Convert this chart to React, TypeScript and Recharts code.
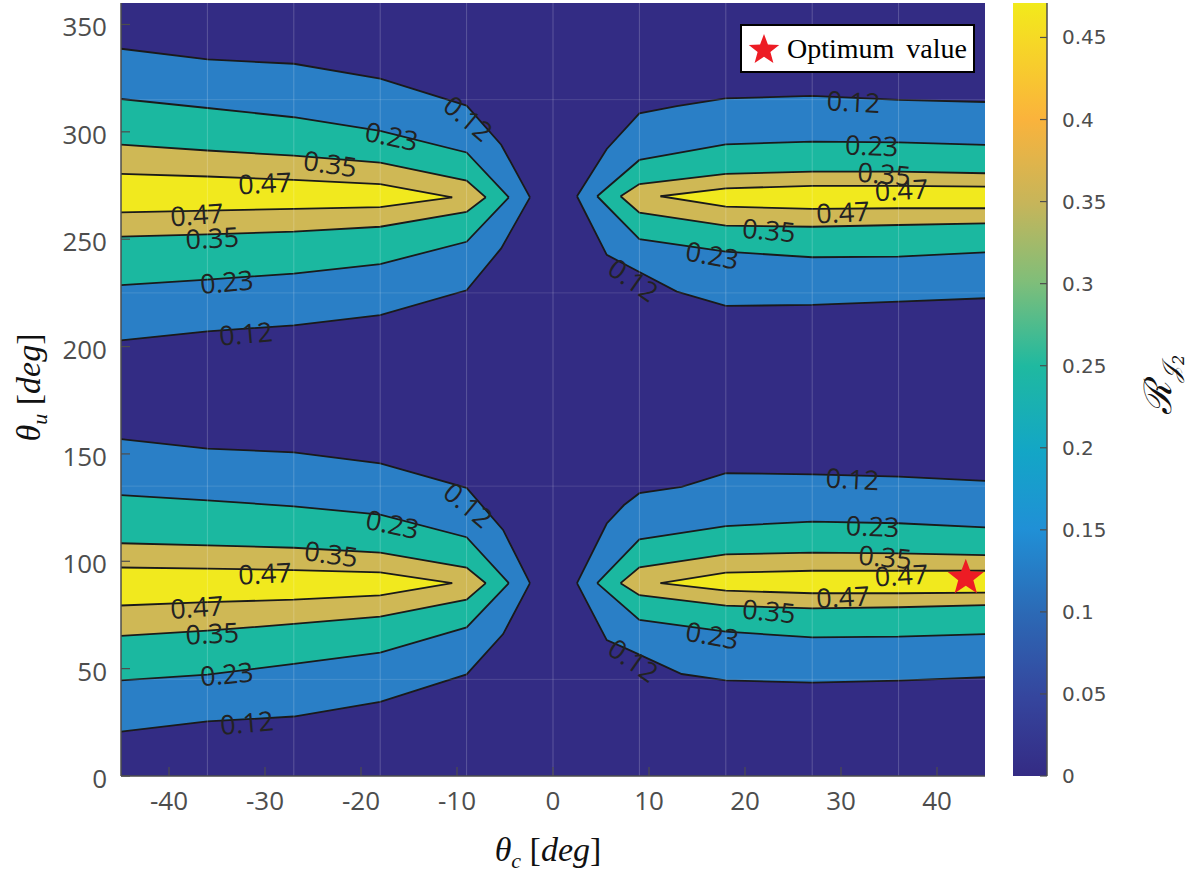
import React from 'react';
import { ComposedChart, Area, Scatter, XAxis, YAxis, CartesianGrid, ReferenceLine, Legend, BarChart, Bar } from 'recharts';

// axis ranges and ticks
const THETA_C_TICKS = [-40, -30, -20, -10, 0, 10, 20, 30, 40];
const THETA_U_TICKS = [0, 50, 100, 150, 200, 250, 300, 350];
const CB_TICKS = [0, 0.05, 0.1, 0.15, 0.2, 0.25, 0.3, 0.35, 0.4, 0.45];
const X_MIN = -45;
const X_MAX = 45;
const Y_MAX = 360;
const CB_MAX = 0.471;

// faint data grid of the surface
const GRID_C = [-36, -27, -18, -9, 0, 9, 18, 27, 36];
const GRID_U = [45, 135, 225, 315];

// contour levels (fill of region above each level)
const LEVEL_COLORS = ['#2a7fc6', '#1bb8a0', '#cfb855', '#f1e91e'];
const BG_COLOR = '#332c84';

// contour bands: [theta_c, lower theta_u, upper theta_u]
const tl12 = [[-45, 202.9, 338.7], [-36, 207.1, 333.7], [-27, 209.9, 331.7], [-18, 214.6, 324.8], [-9, 226.2, 312.2], [-5.4, 245.7, 294], [-2.4, 269.5, 269.5]];
const tl23 = [[-45, 228.6, 315.3], [-36, 231.2, 311.1], [-27, 234, 306.8], [-18, 238.4, 300.5], [-9, 248.8, 290.4], [-4.6, 269.5, 269.5]];
const tl35 = [[-45, 251.2, 294], [-36, 252.2, 291.3], [-27, 253.5, 288.9], [-18, 255.8, 285.7], [-9, 262.7, 277.3], [-7, 269.5, 269.5]];
const tl47 = [[-45, 262.5, 280.4], [-36, 263.3, 279.2], [-27, 264.1, 277.6], [-18, 264.9, 275.6], [-10.5, 269.5, 269.5]];

const bl12 = [[-45, 20.7, 156.9], [-36, 25.4, 152.5], [-27, 27.7, 150.7], [-18, 34.5, 145.6], [-9, 47.3, 134.2], [-5.2, 66.1, 114.6], [-2.4, 89.8, 89.8]];
const bl23 = [[-45, 44.5, 130.8], [-36, 47.2, 128.4], [-27, 52.2, 125.6], [-18, 57.5, 121.7], [-9, 69.2, 111.2], [-4.6, 89.8, 89.8]];
const bl35 = [[-45, 65.3, 108.4], [-36, 67.7, 107.4], [-27, 70.8, 106.3], [-18, 74.2, 104], [-9, 82.1, 97.1], [-7, 89.8, 89.8]];
const bl47 = [[-45, 79.4, 97.1], [-36, 81, 96.6], [-27, 82.1, 95.9], [-18, 84.1, 94.8], [-10.5, 89.8, 89.8]];

const tr12 = [[2.5, 270, 270], [5.6, 242.7, 292], [9, 234.7, 308.6], [12.9, 225.6, 312], [18, 218.9, 315.6], [27, 219.4, 316.7], [36, 220.9, 314.9], [45, 222.5, 313.9]];
const tr23 = [[4.6, 270, 270], [9, 250, 286.9], [18, 244.2, 294.2], [27, 241.6, 295.4], [36, 241.9, 295.1], [45, 243.9, 293.9]];
const tr35 = [[7.04, 270, 270], [9, 262.4, 275.7], [18, 256.3, 280.4], [27, 255.8, 281.5], [36, 256.6, 281.5], [45, 257.4, 280.7]];
const tr47 = [[11.2, 270, 270], [18, 265.2, 273.7], [27, 264.1, 274.8], [36, 264.4, 274.8], [45, 264.4, 274.5]];

const br12 = [[2.5, 89.8, 89.8], [5.6, 63.3, 117.6], [7.4, 59.8, 126.2], [9, 56.5, 131.7], [13.4, 47.5, 134.7], [18, 44.5, 141], [27, 43.5, 140.5], [36, 44.4, 139.4], [45, 46, 137.4]];
const br23 = [[4.6, 89.8, 89.8], [9, 72.7, 110.2], [18, 67.2, 116.4], [27, 64.6, 118.5], [36, 64.9, 117.7], [45, 66.1, 115.8]];
const br35 = [[7.04, 89.8, 89.8], [9, 84.2, 97.2], [18, 79.3, 103.2], [27, 78.1, 104], [36, 78.6, 103.7], [45, 79.6, 102.9]];
const br47 = [[11.2, 89.8, 89.8], [18, 86.3, 94.7], [27, 85.1, 95.6], [36, 85.1, 95.6], [45, 85.4, 95.6]];

const LEVEL_BANDS = [
  [tl12, bl12, tr12, br12],
  [tl23, bl23, tr23, br23],
  [tl35, bl35, tr35, br35],
  [tl47, bl47, tr47, br47],
];

// contour labels: [theta_c, theta_u, text, rotation]
const CONTOUR_LABELS: [number, number, string, number][] = [
  [-8.8, 306.5, '0.12', 40], [-16.8, 298.2, '0.23', 12], [-23.2, 285.4, '0.35', 8], [-30, 276.4, '0.47', -3],
  [-37.1, 261.7, '0.47', -4], [-35.5, 250.8, '0.35', -3], [-34, 230.4, '0.23', -5], [-32, 206.3, '0.12', -5],
  [-8.8, 126.4, '0.12', 40], [-16.7, 117.5, '0.23', 12], [-23.1, 103.7, '0.35', 8], [-30, 94.6, '0.47', -3],
  [-37.1, 78.9, '0.47', -4], [-35.5, 66.7, '0.35', -3], [-34, 47.8, '0.23', -5], [-31.9, 25.1, '0.12', -5],
  [31.3, 314.3, '0.12', 3], [33.2, 293.9, '0.23', 2], [34.5, 280.7, '0.35', 5], [36.3, 273.2, '0.47', -3],
  [30.2, 262.8, '0.47', -3], [22.5, 254.5, '0.35', 5], [16.6, 242.8, '0.23', 10], [8.4, 231.2, '0.12', 35],
  [31.2, 138.6, '0.12', 3], [33.3, 116.6, '0.23', 2], [34.6, 102.3, '0.35', 5], [36.3, 93.8, '0.47', -3],
  [30.2, 83.7, '0.47', -3], [22.5, 77.1, '0.35', 5], [16.6, 65.8, '0.23', 10], [8.4, 54.1, '0.12', 35],
];

const OPT_NAME = 'Optimum value';
const OPTIMUM = [{ x: 43, y: 92.3 }];

// colorbar (parula-like, bottom to top)
const CB_STOPS: [number, string][] = [
  [0, '#342b84'], [0.1, '#35459d'], [0.21, '#2c69b5'], [0.32, '#2090d6'], [0.42, '#13a6c6'],
  [0.53, '#1fb9a0'], [0.64, '#80be79'], [0.74, '#c6b55a'], [0.85, '#fab33c'], [0.95, '#f6d826'], [1, '#f2ea1b'],
];
const CB_DATA = [{ name: 'cb', value: CB_MAX }];

const AXIS_COLOR = '#4d4d4d';
const TICK_FONT = "'Open Sans', sans-serif";

const toRows = (pts: number[][]) => pts.map(([x, lo, hi]) => ({ x, band: [lo, hi] }));
const labelRows = CONTOUR_LABELS.map(([x, y, text, angle]) => ({ x, y, text, angle }));

const starPoints = (cx: number, cy: number, r: number) => {
  const pts: string[] = [];
  for (let i = 0; i < 10; i++) {
    const rad = i % 2 === 0 ? r : r * 0.42;
    const a = -Math.PI / 2 + (i * Math.PI) / 5;
    pts.push(`${(cx + rad * Math.cos(a)).toFixed(2)},${(cy + rad * Math.sin(a)).toFixed(2)}`);
  }
  return pts.join(' ');
};

const BottomTick = ({ x, y, payload }: any) => (
  <g>
    <line x1={x} y1={y} x2={x} y2={y - 9} stroke={AXIS_COLOR} strokeWidth={1.2} />
    <text x={x} y={y + 34} textAnchor="middle" fill={AXIS_COLOR} fontSize={26} fontFamily={TICK_FONT}>
      {payload.value}
    </text>
  </g>
);

const TopTick = ({ x, y }: any) => (
  <line x1={x} y1={y} x2={x} y2={y + 9} stroke={AXIS_COLOR} strokeWidth={1.2} />
);

const LeftTick = ({ x, y, payload }: any) => (
  <g>
    <line x1={x} y1={y} x2={x + 9} y2={y} stroke={AXIS_COLOR} strokeWidth={1.2} />
    <text x={x - 14} y={y + 12} textAnchor="end" fill={AXIS_COLOR} fontSize={26} fontFamily={TICK_FONT}>
      {payload.value}
    </text>
  </g>
);

const RightTick = ({ x, y }: any) => (
  <line x1={x} y1={y} x2={x - 9} y2={y} stroke={AXIS_COLOR} strokeWidth={1.2} />
);

const CbTick = ({ x, y, payload }: any) => (
  <g>
    <line x1={x} y1={y} x2={x - 7} y2={y} stroke={AXIS_COLOR} strokeWidth={1.2} />
    <text x={x + 15} y={y + 7} textAnchor="start" fill={AXIS_COLOR} fontSize={20} fontFamily="'DejaVu Sans', sans-serif">
      {payload.value}
    </text>
  </g>
);

const ContourLabel = ({ cx, cy, payload }: any) => (
  <text
    x={cx}
    y={cy}
    transform={`rotate(${payload.angle} ${cx} ${cy})`}
    textAnchor="middle"
    dominantBaseline="central"
    fill="#222"
    fontSize={27}
    fontFamily={TICK_FONT}
  >
    {payload.text}
  </text>
);

const StarShape = ({ cx, cy }: any) => (
  <polygon points={starPoints(cx, cy, 19)} fill="#ed1c24" />
);

const LegendBox = ({ payload }: any) => {
  const items = (payload || []).filter((p: any) => p.value === OPT_NAME);
  return (
    <div
      style={{
        boxSizing: 'border-box',
        width: 235,
        height: 49,
        border: '2px solid #000',
        background: '#fff',
        display: 'flex',
        alignItems: 'center',
        paddingLeft: 5,
      }}
    >
      {items.map((item: any) => (
        <React.Fragment key={item.value}>
          <svg width={34} height={34}>
            <polygon points={starPoints(17, 18, 16)} fill="#ed1c24" />
          </svg>
          <span style={{ fontFamily: "'Liberation Serif', serif", fontSize: 28, marginLeft: 6, color: '#000', wordSpacing: 5 }}>
            {item.value}
          </span>
        </React.Fragment>
      ))}
    </div>
  );
};

const XLabel = ({ viewBox }: any) => {
  const cx = viewBox.x + viewBox.width / 2;
  return (
    <text x={cx - 5} y={viewBox.y + 85} textAnchor="middle" fontSize={34} fontFamily="'Liberation Serif', serif" fill="#111">
      <tspan fontStyle="italic">θ</tspan>
      <tspan fontStyle="italic" fontSize={22} dy={7}>c</tspan>
      <tspan dy={-7}>{' ['}</tspan>
      <tspan fontStyle="italic">deg</tspan>
      <tspan>]</tspan>
    </text>
  );
};

const YLabel = ({ viewBox }: any) => {
  const x = 40;
  const y = viewBox.y + viewBox.height / 2 - 2;
  return (
    <text x={x} y={y} transform={`rotate(-90 ${x} ${y})`} textAnchor="middle" fontSize={34} fontFamily="'Liberation Serif', serif" fill="#111">
      <tspan fontStyle="italic">θ</tspan>
      <tspan fontStyle="italic" fontSize={22} dy={7}>u</tspan>
      <tspan dy={-7}>{' ['}</tspan>
      <tspan fontStyle="italic">deg</tspan>
      <tspan>]</tspan>
    </text>
  );
};

const CbLabel = ({ viewBox }: any) => {
  const x = viewBox.x + 124;
  const y = 385;
  return (
    <text x={x} y={y} transform={`rotate(-90 ${x} ${y})`} textAnchor="middle" fontSize={38} fontFamily="'DejaVu Serif', serif" fontStyle="italic" fill="#111">
      <tspan>ℛ</tspan>
      <tspan fontSize={24} dy={8}>𝒥</tspan>
      <tspan fontSize={16} dy={5}>2</tspan>
    </text>
  );
};

const ColorbarRect = ({ x, y, width, height }: any) => (
  <g>
    <defs>
      <linearGradient id="parulaGrad" x1="0" y1="1" x2="0" y2="0">
        {CB_STOPS.map(([o, c]) => (
          <stop key={o} offset={o} stopColor={c} />
        ))}
      </linearGradient>
    </defs>
    <rect x={x} y={y} width={width} height={height} fill="url(#parulaGrad)" />
  </g>
);

export default function App() {
  return (
    <div style={{ position: 'absolute', left: 0, top: 0, width: 1194, height: 877, background: '#fff' }}>
      <div style={{ position: 'absolute', left: 0, top: 0 }}>
        <ComposedChart width={1000} height={877} margin={{ top: 3, right: 15, bottom: 0, left: 0 }}>
          <CartesianGrid horizontal={false} vertical={false} fill={BG_COLOR} fillOpacity={1} stroke="none" />
          <XAxis
            dataKey="x"
            type="number"
            domain={[X_MIN, X_MAX]}
            allowDataOverflow
            ticks={THETA_C_TICKS}
            interval={0}
            height={101}
            tickSize={0}
            tickMargin={0}
            tick={<BottomTick />}
            axisLine={{ stroke: AXIS_COLOR, strokeWidth: 1.5 }}
            label={<XLabel />}
          />
          <XAxis
            xAxisId="top"
            orientation="top"
            type="number"
            domain={[X_MIN, X_MAX]}
            allowDataOverflow
            ticks={THETA_C_TICKS}
            interval={0}
            height={0}
            tickSize={0}
            tickMargin={0}
            tick={<TopTick />}
            axisLine={{ stroke: AXIS_COLOR, strokeWidth: 1.5 }}
          />
          <YAxis
            type="number"
            domain={[0, Y_MAX]}
            allowDataOverflow
            ticks={THETA_U_TICKS}
            interval={0}
            width={121}
            tickSize={0}
            tickMargin={0}
            tick={<LeftTick />}
            axisLine={{ stroke: AXIS_COLOR, strokeWidth: 1.5 }}
            label={<YLabel />}
          />
          <YAxis
            yAxisId="right"
            orientation="right"
            type="number"
            domain={[0, Y_MAX]}
            allowDataOverflow
            ticks={THETA_U_TICKS}
            interval={0}
            width={0}
            tickSize={0}
            tickMargin={0}
            tick={<RightTick />}
            axisLine={{ stroke: AXIS_COLOR, strokeWidth: 1.5 }}
          />
          {LEVEL_BANDS.map((bands, li) =>
            bands.map((band, bi) => (
              <Area
                key={`c-${li}-${bi}`}
                data={toRows(band)}
                dataKey="band"
                type="linear"
                fill={LEVEL_COLORS[li]}
                fillOpacity={1}
                stroke="#1a1a1a"
                strokeWidth={1.8}
                dot={false}
                activeDot={false}
                legendType="none"
                isAnimationActive={false}
              />
            ))
          )}
          {GRID_C.map((v) => (
            <ReferenceLine key={`gc${v}`} x={v} stroke="#ffffff" strokeOpacity={0.2} strokeWidth={1} />
          ))}
          {GRID_U.map((v) => (
            <ReferenceLine key={`gu${v}`} y={v} stroke="#ffffff" strokeOpacity={0.13} strokeWidth={1} />
          ))}
          <Scatter data={labelRows} dataKey="y" shape={<ContourLabel />} legendType="none" isAnimationActive={false} />
          <Scatter name={OPT_NAME} data={OPTIMUM} dataKey="y" shape={<StarShape />} fill="#ed1c24" legendType="star" isAnimationActive={false} />
          <Legend
            layout="vertical"
            align="center"
            verticalAlign="middle"
            content={<LegendBox />}
            wrapperStyle={{ left: 740, top: 24, width: 235, height: 49, bottom: 'auto', right: 'auto' }}
          />
        </ComposedChart>
      </div>
      <div style={{ position: 'absolute', left: 1000, top: 0 }}>
        <BarChart width={194} height={877} data={CB_DATA} margin={{ top: 3, right: 0, bottom: 101, left: 13 }} barCategoryGap={0}>
          <XAxis dataKey="name" hide />
          <YAxis
            orientation="right"
            type="number"
            domain={[0, CB_MAX]}
            allowDataOverflow
            ticks={CB_TICKS}
            interval={0}
            width={147}
            tickSize={0}
            tickMargin={0}
            tick={<CbTick />}
            axisLine={{ stroke: AXIS_COLOR, strokeWidth: 1.5 }}
            label={<CbLabel />}
          />
          <Bar dataKey="value" shape={<ColorbarRect />} isAnimationActive={false} />
        </BarChart>
      </div>
    </div>
  );
}
